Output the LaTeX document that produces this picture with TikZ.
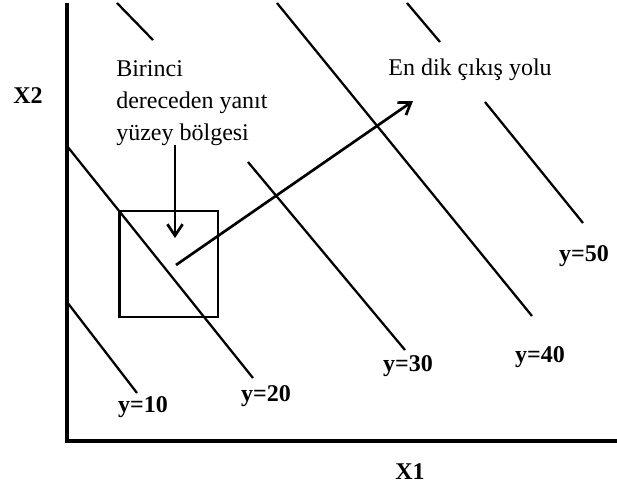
\documentclass[tikz,border=0pt]{standalone}
\usepackage{fontspec}
\setmainfont{Liberation Serif}
\usetikzlibrary{arrows.meta, positioning}

\begin{document}
\begin{tikzpicture}[x=0.75pt, y=-0.75pt,
        axisline/.style={line width=2.4pt},
        contour/.style={line width=1.7pt},
        ylabel/.style={font=\fontsize{18}{22}\selectfont\bfseries, inner sep=0pt},
        note/.style={font=\fontsize{18}{24}\selectfont, inner sep=0pt, align=left},
        ascent/.style={line width=2pt, -{Straight Barb[length=3mm, width=4mm]}}]
        \useasboundingbox (0,0) rectangle (617,490);

        % Axes
        \coordinate (ytop) at (67,3);
        \coordinate (origin) at (67,441);
        \coordinate (xend) at (617,441);
        \draw[axisline] (ytop) -- (origin) -- (xend);
        \node[ylabel] (x2) at (28,96) {X2};
        \node[ylabel] (x1) at (410,472) {X1};

        % Contour lines
        \coordinate (c10a) at (67,302);  \coordinate (c10b) at (137,393);
        \coordinate (c20a) at (67,146);  \coordinate (c20b) at (253,378);
        \coordinate (c30a) at (117,3);   \coordinate (c30b) at (153,40);
        \coordinate (c30c) at (248,162); \coordinate (c30d) at (405,350);
        \coordinate (c40a) at (277,3);   \coordinate (c40b) at (532,316);
        \coordinate (c50a) at (407,3);   \coordinate (c50b) at (440,42);
        \coordinate (c50c) at (485,102); \coordinate (c50d) at (583,223);
        \draw[contour] (c10a) -- (c10b);
        \draw[contour] (c20a) -- (c20b);
        \draw[contour] (c30a) -- (c30b);
        \draw[contour] (c30c) -- (c30d);
        \draw[contour] (c40a) -- (c40b);
        \draw[contour] (c50a) -- (c50b);
        \draw[contour] (c50c) -- (c50d);

        \node[ylabel] (y10) at (143,407) {y=10};
        \node[ylabel] (y20) at (266,396) {y=20};
        \node[ylabel] (y30) at (408,366) {y=30};
        \node[ylabel] (y40) at (540,357) {y=40};
        \node[ylabel] (y50) at (584,256) {y=50};

        % Region and texts
        \node[draw, line width=2pt, inner sep=0pt,
              minimum width=74pt, minimum height=79.5pt] (region) at (168.5,264) {};
        \node[note, anchor=north west] (regtext) at (116,60) {Birinci\\dereceden yan\i t\\y\"uzey b\"olgesi};
        \node[note] (pathtext) at (470,70) {En dik \c{c}\i k\i\c{s} yolu};

        % Arrows
        \coordinate (regtop) at (175,145);
        \coordinate (regtip) at (175,238);
        \coordinate (start) at (176,265);
        \coordinate (goal) at (413,101);
        \draw[ascent] (regtop) -- (regtip);
        \draw[ascent] (start) -- (goal);
    \end{tikzpicture}
\end{document}
